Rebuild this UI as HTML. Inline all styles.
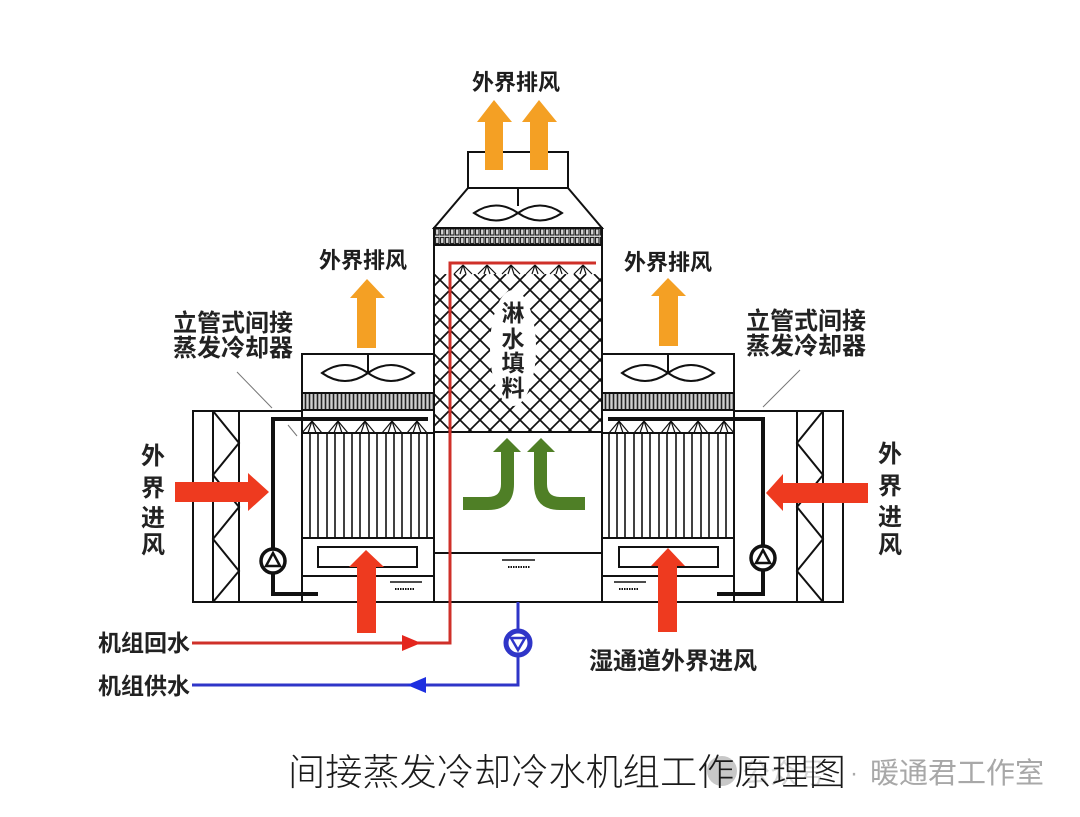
<!DOCTYPE html>
<html><head><meta charset="utf-8"><style>
html,body{margin:0;padding:0;background:#fff;}
svg{display:block;}
text{font-family:"Liberation Sans","Noto Sans CJK SC",sans-serif;}
</style></head><body>
<svg width="1080" height="817" viewBox="0 0 1080 817" xmlns="http://www.w3.org/2000/svg">
<defs>
<clipPath id="hc"><rect x="435" y="274" width="166" height="158"/></clipPath>
<pattern id="strip" patternUnits="userSpaceOnUse" x="0" y="0" width="4" height="17">
<rect width="4" height="17" fill="#cfcfcf"/>
<line x1="1.5" y1="0" x2="1.5" y2="17" stroke="#222" stroke-width="1.6"/>
</pattern>
<pattern id="strip2" patternUnits="userSpaceOnUse" x="0" y="228" width="5" height="8.5">
<rect width="5" height="8.5" fill="#d6d6d6"/>
<rect x="0.5" y="1" width="3.5" height="6" fill="none" stroke="#222" stroke-width="1.1"/>
</pattern>
</defs>
<rect width="1080" height="817" fill="#fff"/>

<g stroke="#111" stroke-width="2" fill="none">
<rect x="193" y="411" width="109" height="191"/>
<line x1="213" y1="411" x2="213" y2="602"/>
<line x1="239" y1="411" x2="239" y2="602"/>
<polyline points="213,411 239,443 213,475 239,507 213,539 239,571 213,602"/>
<rect x="734" y="411" width="109" height="191"/>
<line x1="823" y1="411" x2="823" y2="602"/>
<line x1="797" y1="411" x2="797" y2="602"/>
<polyline points="823,411 797,443 823,475 797,507 823,539 797,571 823,602"/>

<rect x="302" y="354" width="132" height="248"/>
<line x1="302" y1="393" x2="434" y2="393"/>
<line x1="302" y1="433" x2="434" y2="433"/>
<line x1="302" y1="538" x2="434" y2="538"/>
<line x1="302" y1="576" x2="434" y2="576"/>
<rect x="318" y="547" width="99" height="20"/>
<line x1="368" y1="354" x2="368" y2="373"/>
<rect x="602" y="354" width="132" height="248"/>
<line x1="602" y1="393" x2="734" y2="393"/>
<line x1="602" y1="433" x2="734" y2="433"/>
<line x1="602" y1="538" x2="734" y2="538"/>
<line x1="602" y1="576" x2="734" y2="576"/>
<rect x="619" y="547" width="99" height="20"/>
<line x1="668" y1="354" x2="668" y2="373"/>

<rect x="468" y="152" width="100" height="36"/>
<polygon points="468,188 568,188 602,228 434,228"/>
<rect x="434" y="228" width="168" height="374"/>
<line x1="518" y1="188" x2="518" y2="206"/>
<line x1="434" y1="553" x2="602" y2="553"/>
</g>

<rect x="303" y="394" width="130" height="16" fill="url(#strip)" stroke="none"/>
<line x1="302" y1="410" x2="434" y2="410" stroke="#111" stroke-width="2"/>
<rect x="603" y="394" width="130" height="16" fill="url(#strip)" stroke="none"/>
<line x1="602" y1="410" x2="734" y2="410" stroke="#111" stroke-width="2"/>
<rect x="435" y="229" width="166" height="16" fill="url(#strip2)" stroke="none"/>
<line x1="434" y1="245" x2="602" y2="245" stroke="#111" stroke-width="2"/>

<!-- crosshatch -->
<g clip-path="url(#hc)">
<path stroke="#111" stroke-width="1.7" fill="none" d="M274,274L432,432 M294,274L452,432 M314,274L472,432 M334,274L492,432 M354,274L512,432 M374,274L532,432 M394,274L552,432 M414,274L572,432 M434,274L592,432 M454,274L612,432 M474,274L632,432 M494,274L652,432 M514,274L672,432 M534,274L692,432 M554,274L712,432 M574,274L732,432 M594,274L752,432 M614,274L772,432
M426,274L268,432 M446,274L288,432 M466,274L308,432 M486,274L328,432 M506,274L348,432 M526,274L368,432 M546,274L388,432 M566,274L408,432 M586,274L428,432 M606,274L448,432 M626,274L468,432 M646,274L488,432 M666,274L508,432 M686,274L528,432 M706,274L548,432 M726,274L568,432 M746,274L588,432 M766,274L608,432"/>
</g>
<line x1="434" y1="432" x2="602" y2="432" stroke="#111" stroke-width="2"/>
<ellipse cx="513" cy="348" rx="23" ry="58" fill="#fff"/>

<g stroke="#111" stroke-width="1.6">
<line x1="310" y1="433" x2="310" y2="538"/><line x1="318" y1="433" x2="318" y2="538"/><line x1="327" y1="433" x2="327" y2="538"/><line x1="335" y1="433" x2="335" y2="538"/><line x1="344" y1="433" x2="344" y2="538"/><line x1="352" y1="433" x2="352" y2="538"/><line x1="360" y1="433" x2="360" y2="538"/><line x1="369" y1="433" x2="369" y2="538"/><line x1="377" y1="433" x2="377" y2="538"/><line x1="386" y1="433" x2="386" y2="538"/><line x1="394" y1="433" x2="394" y2="538"/><line x1="402" y1="433" x2="402" y2="538"/><line x1="411" y1="433" x2="411" y2="538"/><line x1="419" y1="433" x2="419" y2="538"/><line x1="427" y1="433" x2="427" y2="538"/>
<line x1="609" y1="433" x2="609" y2="538"/><line x1="617" y1="433" x2="617" y2="538"/><line x1="625" y1="433" x2="625" y2="538"/><line x1="634" y1="433" x2="634" y2="538"/><line x1="642" y1="433" x2="642" y2="538"/><line x1="650" y1="433" x2="650" y2="538"/><line x1="659" y1="433" x2="659" y2="538"/><line x1="667" y1="433" x2="667" y2="538"/><line x1="676" y1="433" x2="676" y2="538"/><line x1="684" y1="433" x2="684" y2="538"/><line x1="692" y1="433" x2="692" y2="538"/><line x1="701" y1="433" x2="701" y2="538"/><line x1="709" y1="433" x2="709" y2="538"/><line x1="718" y1="433" x2="718" y2="538"/><line x1="726" y1="433" x2="726" y2="538"/>
</g>

<g stroke="#111" stroke-width="1.2" fill="none">
<path d="M312,421 l-10,12 M312,421 l-4,12 M312,421 l4,12 M312,421 l10,12"/>
<path d="M338,421 l-10,12 M338,421 l-4,12 M338,421 l4,12 M338,421 l10,12"/>
<path d="M365,421 l-10,12 M365,421 l-4,12 M365,421 l4,12 M365,421 l10,12"/>
<path d="M392,421 l-10,12 M392,421 l-4,12 M392,421 l4,12 M392,421 l10,12"/>
<path d="M417,421 l-10,12 M417,421 l-4,12 M417,421 l4,12 M417,421 l10,12"/>
<path d="M619,421 l-10,12 M619,421 l-4,12 M619,421 l4,12 M619,421 l10,12"/>
<path d="M644,421 l-10,12 M644,421 l-4,12 M644,421 l4,12 M644,421 l10,12"/>
<path d="M671,421 l-10,12 M671,421 l-4,12 M671,421 l4,12 M671,421 l10,12"/>
<path d="M698,421 l-10,12 M698,421 l-4,12 M698,421 l4,12 M698,421 l10,12"/>
<path d="M724,421 l-10,12 M724,421 l-4,12 M724,421 l4,12 M724,421 l10,12"/>
<path d="M463,265 l-9,9 M463,265 l-3,9 M463,265 l3,9 M463,265 l9,9"/>
<path d="M487,265 l-9,9 M487,265 l-3,9 M487,265 l3,9 M487,265 l9,9"/>
<path d="M511,265 l-9,9 M511,265 l-3,9 M511,265 l3,9 M511,265 l9,9"/>
<path d="M535,265 l-9,9 M535,265 l-3,9 M535,265 l3,9 M535,265 l9,9"/>
<path d="M559,265 l-9,9 M559,265 l-3,9 M559,265 l3,9 M559,265 l9,9"/>
<path d="M583,265 l-9,9 M583,265 l-3,9 M583,265 l3,9 M583,265 l9,9"/>
</g>

<g stroke="#111" stroke-width="2" fill="none">
<path d="M322,373 Q345,357 368,373 Q345,389 322,373 Z M368,373 Q391,357 414,373 Q391,389 368,373 Z"/>
<path d="M622,373 Q645,357 668,373 Q645,389 622,373 Z M668,373 Q691,357 714,373 Q691,389 668,373 Z"/>
<path d="M474,213 Q496,198 518,213 Q496,228 474,213 Z M518,213 Q540,198 562,213 Q540,228 518,213 Z"/>
</g>

<g stroke="#111" stroke-width="1.6">
<line x1="390" y1="582" x2="422" y2="582"/>
<line x1="395" y1="589" x2="415" y2="589" stroke-dasharray="1.5,1" stroke-width="2"/>
<line x1="614" y1="582" x2="646" y2="582"/>
<line x1="619" y1="589" x2="639" y2="589" stroke-dasharray="1.5,1" stroke-width="2"/>
<line x1="502" y1="560" x2="535" y2="560"/>
<line x1="508" y1="567" x2="530" y2="567" stroke-dasharray="1.5,1" stroke-width="2"/>
</g>

<g stroke="#111" stroke-width="4" fill="none">
<polyline points="428,419 273,419 273,594 318,594"/>
<polyline points="608,419 763,419 763,594 717,594"/>
</g>
<g stroke="#111" stroke-width="3.5" fill="#fff">
<circle cx="273" cy="561" r="12"/>
<circle cx="763" cy="558" r="12"/>
</g>
<g stroke="#111" stroke-width="2.5" fill="none">
<polygon points="266,566 280,566 273,553"/>
<polygon points="756,563 770,563 763,550"/>
</g>

<g stroke="#777" stroke-width="1">
<line x1="237" y1="372" x2="272" y2="408"/>
<line x1="288" y1="425" x2="297" y2="436"/>
<line x1="800" y1="370" x2="763" y2="407"/>
</g>

<g stroke="#cf3029" stroke-width="3" fill="none">
<polyline points="596,263 450,263 450,643 192,643"/>
</g>
<polygon points="402,635 421,643 402,651" fill="#e4261e"/>
<g stroke="#2f35c8" stroke-width="3" fill="none">
<polyline points="518,602 518,685 192,685"/>
</g>
<polygon points="426,677 407,685 426,693" fill="#1e2fe0"/>
<circle cx="518" cy="643" r="12" fill="#fff" stroke="#2f35c8" stroke-width="5"/>
<polygon points="511,638 525,638 518,650" fill="none" stroke="#2f35c8" stroke-width="2.5"/>

<g fill="#f4a024">
<polygon points="485,170 503,170 503,122 512,122 494,100 477,122 485,122"/>
<polygon points="530,170 548,170 548,122 557,122 539,100 522,122 530,122"/>
<polygon points="357,348 376,348 376,298 385,298 367,279 350,298 357,298"/>
<polygon points="659,346 678,346 678,296 686,296 668,278 651,296 659,296"/>
</g>
<g fill="#ee3a1f">
<polygon points="175,482 248,482 248,473 269,492 248,511 248,502 175,502"/>
<polygon points="868,483 783,483 783,474 766,493 783,511 783,503 868,503"/>
<polygon points="357,633 376,633 376,567 384,567 366,550 349,567 357,567"/>
<polygon points="658,632 677,632 677,566 685,566 668,548 651,566 658,566"/>
</g>
<g fill="#4f7f26">
<path d="M463,497 L488,497 Q501,497 501,484 L501,452 L493,452 L507,438 L521,452 L514,452 L514,484 Q514,510 488,510 L463,510 Z"/>
<path d="M585,497 L560,497 Q547,497 547,484 L547,452 L555,452 L541,438 L527,452 L534,452 L534,484 Q534,510 560,510 L585,510 Z"/>
</g>

<g fill="#1e1e1e" font-size="22" font-weight="700" text-anchor="middle">
<text x="516" y="90">外界排风</text>
<text x="363" y="268">外界排风</text>
<text x="668" y="270">外界排风</text>
</g>
<g fill="#222" font-size="24" font-weight="700" text-anchor="middle">
<text x="233" y="331">立管式间接</text>
<text x="233" y="356">蒸发冷却器</text>
<text x="806" y="329">立管式间接</text>
<text x="806" y="354">蒸发冷却器</text>
<text x="153" y="464">外</text><text x="153" y="496">界</text><text x="153" y="526">进</text><text x="153" y="553">风</text>
<text x="890" y="462">外</text><text x="890" y="494">界</text><text x="890" y="525">进</text><text x="890" y="553">风</text>
<text x="513" y="321" font-size="23">淋</text>
<text x="513" y="347" font-size="23">水</text>
<text x="513" y="371" font-size="23">填</text>
<text x="513" y="396" font-size="23">料</text>
<text x="673" y="669">湿通道外界进风</text>
</g>
<g fill="#222" font-size="23" font-weight="700" text-anchor="end">
<text x="190" y="651">机组回水</text>
<text x="190" y="694">机组供水</text>
</g>

<circle cx="722" cy="771" r="15" fill="#c8c8c8"/>
<text x="742" y="783" font-size="28" fill="#d6d6d6">公众号</text>
<text x="850" y="781" font-size="24" fill="#aaa">·</text>
<text x="870" y="783" font-size="29" fill="#a8a8a8">暖通君工作室</text>
<text x="288" y="785" font-size="37" fill="#1a1a1a" font-weight="300" textLength="558" lengthAdjust="spacingAndGlyphs">间接蒸发冷却冷水机组工作原理图</text>
</svg>
</body></html>
